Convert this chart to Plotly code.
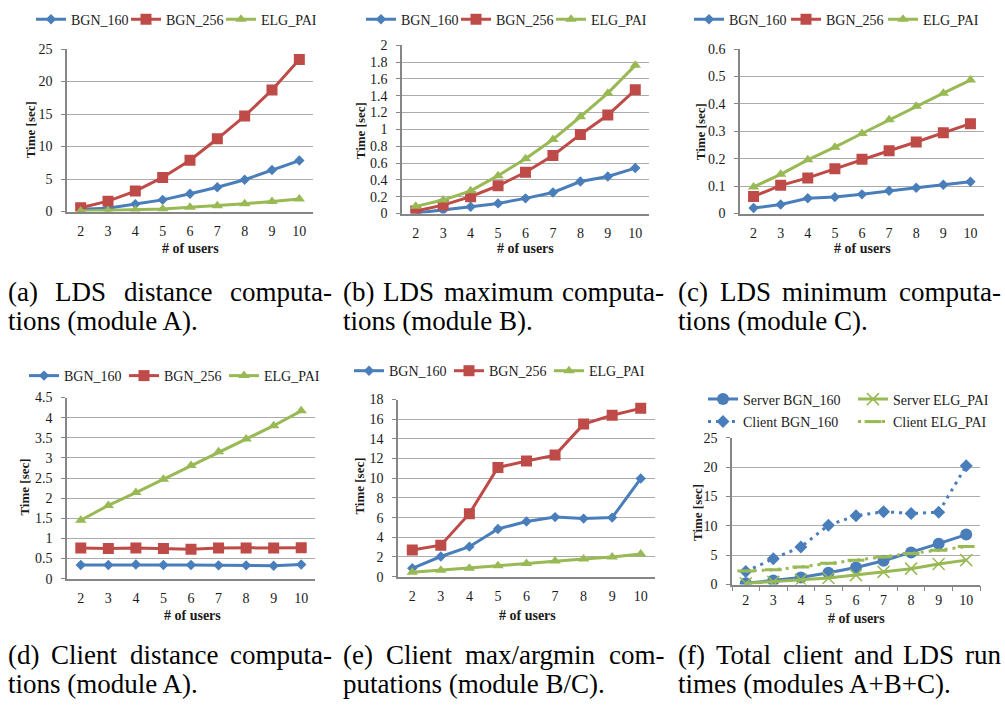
import plotly.graph_objects as go

W, H = 1005, 708
FONT = "Liberation Serif, Times New Roman, serif"
TXT = "#1a1a1a"
AXIS = "#868686"
GRID = "#ababab"
BLUE = "#4A7EBB"
RED = "#BE4B48"
GREEN = "#98B954"

users = ["2", "3", "4", "5", "6", "7", "8", "9", "10"]

# (a) LDS distance computations (module A)
a_bgn160 = [0.35, 0.5, 1.15, 1.8, 2.75, 3.75, 4.9, 6.4, 7.85]
a_bgn256 = [0.6, 1.6, 3.15, 5.25, 7.9, 11.2, 14.7, 18.7, 23.4]
a_elg = [0.08, 0.15, 0.25, 0.4, 0.65, 0.9, 1.2, 1.55, 1.95]

# (b) LDS maximum computations (module B)
b_bgn160 = [0.005, 0.04, 0.08, 0.12, 0.18, 0.25, 0.38, 0.44, 0.54]
b_bgn256 = [0.03, 0.1, 0.2, 0.33, 0.49, 0.69, 0.94, 1.17, 1.47]
b_elg = [0.085, 0.16, 0.27, 0.45, 0.65, 0.88, 1.15, 1.43, 1.76]

# (c) LDS minimum computations (module C)
c_bgn160 = [0.02, 0.033, 0.056, 0.06, 0.07, 0.083, 0.094, 0.105, 0.116]
c_bgn256 = [0.062, 0.103, 0.13, 0.163, 0.198, 0.229, 0.261, 0.295, 0.328]
c_elg = [0.097, 0.143, 0.196, 0.242, 0.292, 0.342, 0.391, 0.439, 0.487]

# (d) Client distance computations (module A)
d_bgn160 = [0.34, 0.34, 0.35, 0.34, 0.34, 0.33, 0.33, 0.32, 0.35]
d_bgn256 = [0.76, 0.75, 0.76, 0.75, 0.73, 0.76, 0.76, 0.76, 0.77]
d_elg = [1.45, 1.82, 2.14, 2.47, 2.81, 3.15, 3.47, 3.8, 4.17]

# (e) Client max/argmin computations (module B/C)
e_bgn160 = [0.85, 2.05, 3.05, 4.85, 5.6, 6.05, 5.9, 6.0, 9.97]
e_bgn256 = [2.7, 3.2, 6.4, 11.1, 11.75, 12.35, 15.5, 16.4, 17.1]
e_elg = [0.45, 0.65, 0.85, 1.1, 1.35, 1.6, 1.8, 2.0, 2.3]

# (f) Total client and LDS run times (modules A+B+C)
f_server_bgn160 = [0.2, 0.7, 1.2, 2.0, 2.9, 4.05, 5.45, 6.95, 8.5]
f_server_elg = [0.2, 0.45, 0.8, 1.1, 1.6, 2.15, 2.7, 3.5, 4.15]
f_client_bgn160 = [2.2, 4.4, 6.4, 10.1, 11.7, 12.4, 12.1, 12.3, 20.2]
f_client_elg = [2.3, 2.5, 3.0, 3.6, 4.15, 4.7, 5.3, 5.85, 6.45]

y_ranges = [25, 2, 0.6, 4.5, 18, 25]
y_dticks = [5, 0.2, 0.1, 0.5, 2, 5]

# caption texts
captions = [
    ("(a) LDS distance computa-", "tions (module A)."),
    ("(b) LDS maximum computa-", "tions (module B)."),
    ("(c) LDS minimum computa-", "tions (module C)."),
    ("(d) Client distance computa-", "tions (module A)."),
    ("(e) Client max/argmin com-", "putations (module B/C)."),
    ("(f) Total client and LDS run", "times (modules A+B+C)."),
]

# plot-area boxes in pixels: left, right, top, bottom
boxes = [
    (67, 313, 43, 209),
    (402, 649, 39, 211),
    (740, 984, 43, 211),
    (67, 315, 399, 584),
    (398, 655, 401, 582),
    (732, 980, 440, 590),
]
# caption columns (left, right) and baselines of the two rows (line-1 y, line-2 y)
cap_cols = [(7, 331), (342, 663), (677, 1000)]
cap_rows = [(291, 321), (662, 692)]
CAP_SIZE = 27

# Times/Liberation Serif advance widths (per 1000 em) for justification
TW = {" ": 250, "(": 333, ")": 333, "-": 333, ".": 250, "/": 278, "+": 564,
      "A": 722, "B": 667, "C": 667, "D": 722, "L": 611, "S": 556, "T": 611,
      "a": 444, "b": 500, "c": 444, "d": 500, "e": 444, "f": 333, "g": 500, "h": 500,
      "i": 278, "l": 278, "m": 778, "n": 500, "o": 500, "p": 500, "r": 333, "s": 389,
      "t": 278, "u": 500, "x": 500, "y": 500}


def text_width(s, size):
    return sum(TW.get(ch, 500) for ch in s) * size / 1000.0


def px(x):
    return x / W


def py(y):
    return 1 - y / H


fig = go.Figure()


def add3(i, s160, s256, selg, legend):
    n = "" if i == 1 else str(i)
    common = dict(x=users, xaxis="x" + n, yaxis="y" + n, mode="lines+markers", legend=legend)
    fig.add_trace(go.Scatter(y=s160, name="BGN_160", line=dict(color=BLUE, width=3),
                             marker=dict(symbol="diamond", size=8, color=BLUE), **common))
    fig.add_trace(go.Scatter(y=s256, name="BGN_256", line=dict(color=RED, width=3),
                             marker=dict(symbol="square", size=11, color=RED), **common))
    fig.add_trace(go.Scatter(y=selg, name="ELG_PAI", line=dict(color=GREEN, width=3),
                             marker=dict(symbol="triangle-up", size=10, color=GREEN), **common))


add3(1, a_bgn160, a_bgn256, a_elg, "legend")
add3(2, b_bgn160, b_bgn256, b_elg, "legend2")
add3(3, c_bgn160, c_bgn256, c_elg, "legend3")
add3(4, d_bgn160, d_bgn256, d_elg, "legend4")
add3(5, e_bgn160, e_bgn256, e_elg, "legend5")

fc = dict(x=users, xaxis="x6", yaxis="y6", mode="lines+markers")
fig.add_trace(go.Scatter(y=f_server_bgn160, name="Server BGN_160", legend="legend6",
                         line=dict(color=BLUE, width=3),
                         marker=dict(symbol="circle", size=12, color=BLUE), **fc))
fig.add_trace(go.Scatter(y=f_server_elg, name="Server ELG_PAI", legend="legend6",
                         line=dict(color=GREEN, width=3),
                         marker=dict(symbol="x-thin-open", size=12, color=GREEN,
                                     line=dict(color=GREEN, width=1.5)), **fc))
fig.add_trace(go.Scatter(y=f_client_bgn160, name="Client BGN_160", legend="legend7",
                         line=dict(color=BLUE, width=3, dash="3px,5px"),
                         marker=dict(symbol="diamond", size=10, color=BLUE), **fc))
fig.add_trace(go.Scatter(y=f_client_elg, name="Client ELG_PAI", legend="legend7",
                         line=dict(color=GREEN, width=3, dash="3px,5px"),
                         marker=dict(symbol="line-ew", size=12, color=GREEN,
                                     line=dict(color=GREEN, width=3)), **fc))

layout = dict(
    width=W, height=H, margin=dict(l=0, r=0, t=0, b=0),
    paper_bgcolor="white", plot_bgcolor="white",
    font=dict(family=FONT, size=14, color=TXT),
)

for i, (l, r, t, b) in enumerate(boxes):
    n = "" if i == 0 else str(i + 1)
    layout["xaxis" + n] = dict(
        domain=[px(l), px(r)], anchor="y" + n, type="category", range=[-0.5, 8.5],
        showgrid=False, showline=True, linecolor=AXIS, linewidth=1.5, zeroline=False,
        ticks="outside" if i == 5 else "", tickson="boundaries", ticklen=5, tickcolor=AXIS,
        tickfont=dict(family=FONT, size=14, color=TXT), ticklabelstandoff=6 if i != 5 else 2,
    )
    layout["yaxis" + n] = dict(
        domain=[py(b), py(t)], anchor="x" + n, range=[0, y_ranges[i]], dtick=y_dticks[i],
        tick0=0, showgrid=True, gridcolor=GRID, gridwidth=1, showline=True, linecolor=AXIS,
        linewidth=1.5, zeroline=False, ticks="outside", ticklen=4, tickcolor=AXIS,
        tickfont=dict(family=FONT, size=14, color=TXT), ticklabelstandoff=6,
    )

leg_common = dict(orientation="h", xanchor="left", yanchor="middle", bgcolor="rgba(0,0,0,0)",
                  font=dict(family=FONT, size=14, color=TXT), itemwidth=30,
                  entrywidthmode="pixels", tracegroupgap=0, borderwidth=0)
leg_pos = {
    "legend": (31, 13, 50),
    "legend2": (361, 13, 50),
    "legend3": (689, 13, 52),
    "legend4": (24, 377, 55),
    "legend5": (349, 372, 55),
    "legend6": (703, 401, 105),
    "legend7": (703, 424, 105),
}
for k, (x, y, ew) in leg_pos.items():
    layout[k] = dict(x=px(x), y=py(y), entrywidth=ew, **leg_common)

annotations = []
ytitles = [(30, 126), (360, 127), (700, 128), (25, 491), (360, 490), (697, 517)]
xtitles = [(190, 247), (525, 247), (862, 247), (192, 622), (527, 622), (856, 625)]
for x, y in ytitles:
    annotations.append(dict(x=px(x), y=py(y), xref="paper", yref="paper", text="<b>Time [sec]</b>",
                            textangle=-90, showarrow=False, font=dict(family=FONT, size=13, color=TXT),
                            xanchor="center", yanchor="middle"))
for x, y in xtitles:
    annotations.append(dict(x=px(x), y=py(y), xref="paper", yref="paper", text="<b># of users</b>",
                            showarrow=False, font=dict(family=FONT, size=14, color=TXT),
                            xanchor="center", yanchor="middle"))

# captions: first line justified word by word, second line left-aligned
capfont = dict(family=FONT, size=CAP_SIZE, color="#000000")
for k, (line1, line2) in enumerate(captions):
    x0, x1 = cap_cols[k % 3]
    y1, y2 = cap_rows[k // 3]
    words = line1.split(" ")
    widths = [text_width(w, CAP_SIZE) for w in words]
    gap = (x1 - x0 - sum(widths)) / (len(words) - 1)
    xpos = x0
    for w, ww in zip(words, widths):
        annotations.append(dict(x=px(xpos), y=py(y1), xref="paper", yref="paper", text=w,
                                showarrow=False, font=capfont, xanchor="left", yanchor="middle",
                                xshift=-1))
        xpos += ww + gap
    annotations.append(dict(x=px(x0), y=py(y2), xref="paper", yref="paper", text=line2,
                            showarrow=False, font=capfont, xanchor="left", yanchor="middle",
                            xshift=-1))

layout["annotations"] = annotations
fig.update_layout(**layout)
fig.write_html("out.html")
